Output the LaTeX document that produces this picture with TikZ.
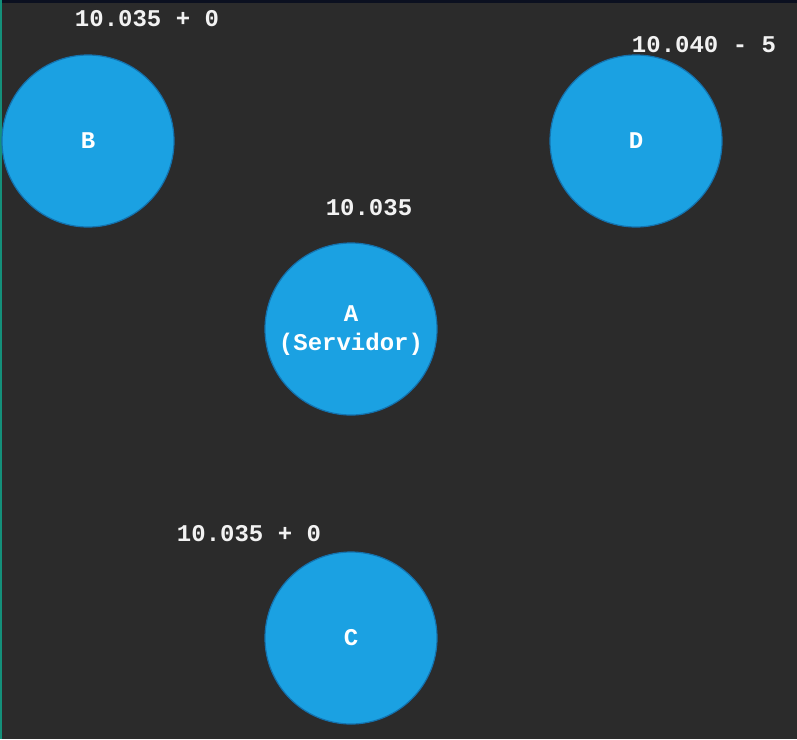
\documentclass[tikz,border=0pt]{standalone}
\usepackage{fontspec}
\setmonofont{Liberation Mono}
\definecolor{bg}{HTML}{2B2B2B}
\definecolor{topbar}{HTML}{0B1020}
\definecolor{leftbar}{HTML}{14907A}
\definecolor{nodefill}{HTML}{1BA1E2}
\definecolor{nodeline}{HTML}{1472AE}
\definecolor{txt}{HTML}{F2F2F2}
\newcommand{\dn}[1]{\raisebox{-2pt}[\height][\depth]{#1}}
\begin{document}
\begin{tikzpicture}[x=1pt,y=-1pt,
  peer/.style={circle, minimum size=172pt, inner sep=0pt, fill=nodefill, draw=nodeline, line width=1.2pt, text=white, font=\ttfamily\bfseries\fontsize{24}{29}\selectfont, align=center},
  lbl/.style={text=txt, font=\ttfamily\bfseries\fontsize{24}{29}\selectfont, inner sep=0pt}]
  \fill[bg] (0,0) rectangle (797,739);
  \fill[topbar] (0,0) rectangle (797,3);
  \fill[leftbar] (0,0) rectangle (1.5,739);
  \useasboundingbox (0,0) rectangle (797,739);
  \node[peer] (B) at (88,141) {B};
  \node[peer] (D) at (636,141) {D};
  \node[peer] (A) at (351,329) {\dn{A}\\\dn{(Servidor)}};
  \node[peer] (C) at (351,638) {C};
  \node[lbl] (lB) at (147,19) {10.035 + 0};
  \node[lbl] (lD) at (704,45) {10.040 - 5};
  \node[lbl] (lA) at (369,208) {10.035};
  \node[lbl] (lC) at (249,534) {10.035 + 0};
\end{tikzpicture}
\end{document}
